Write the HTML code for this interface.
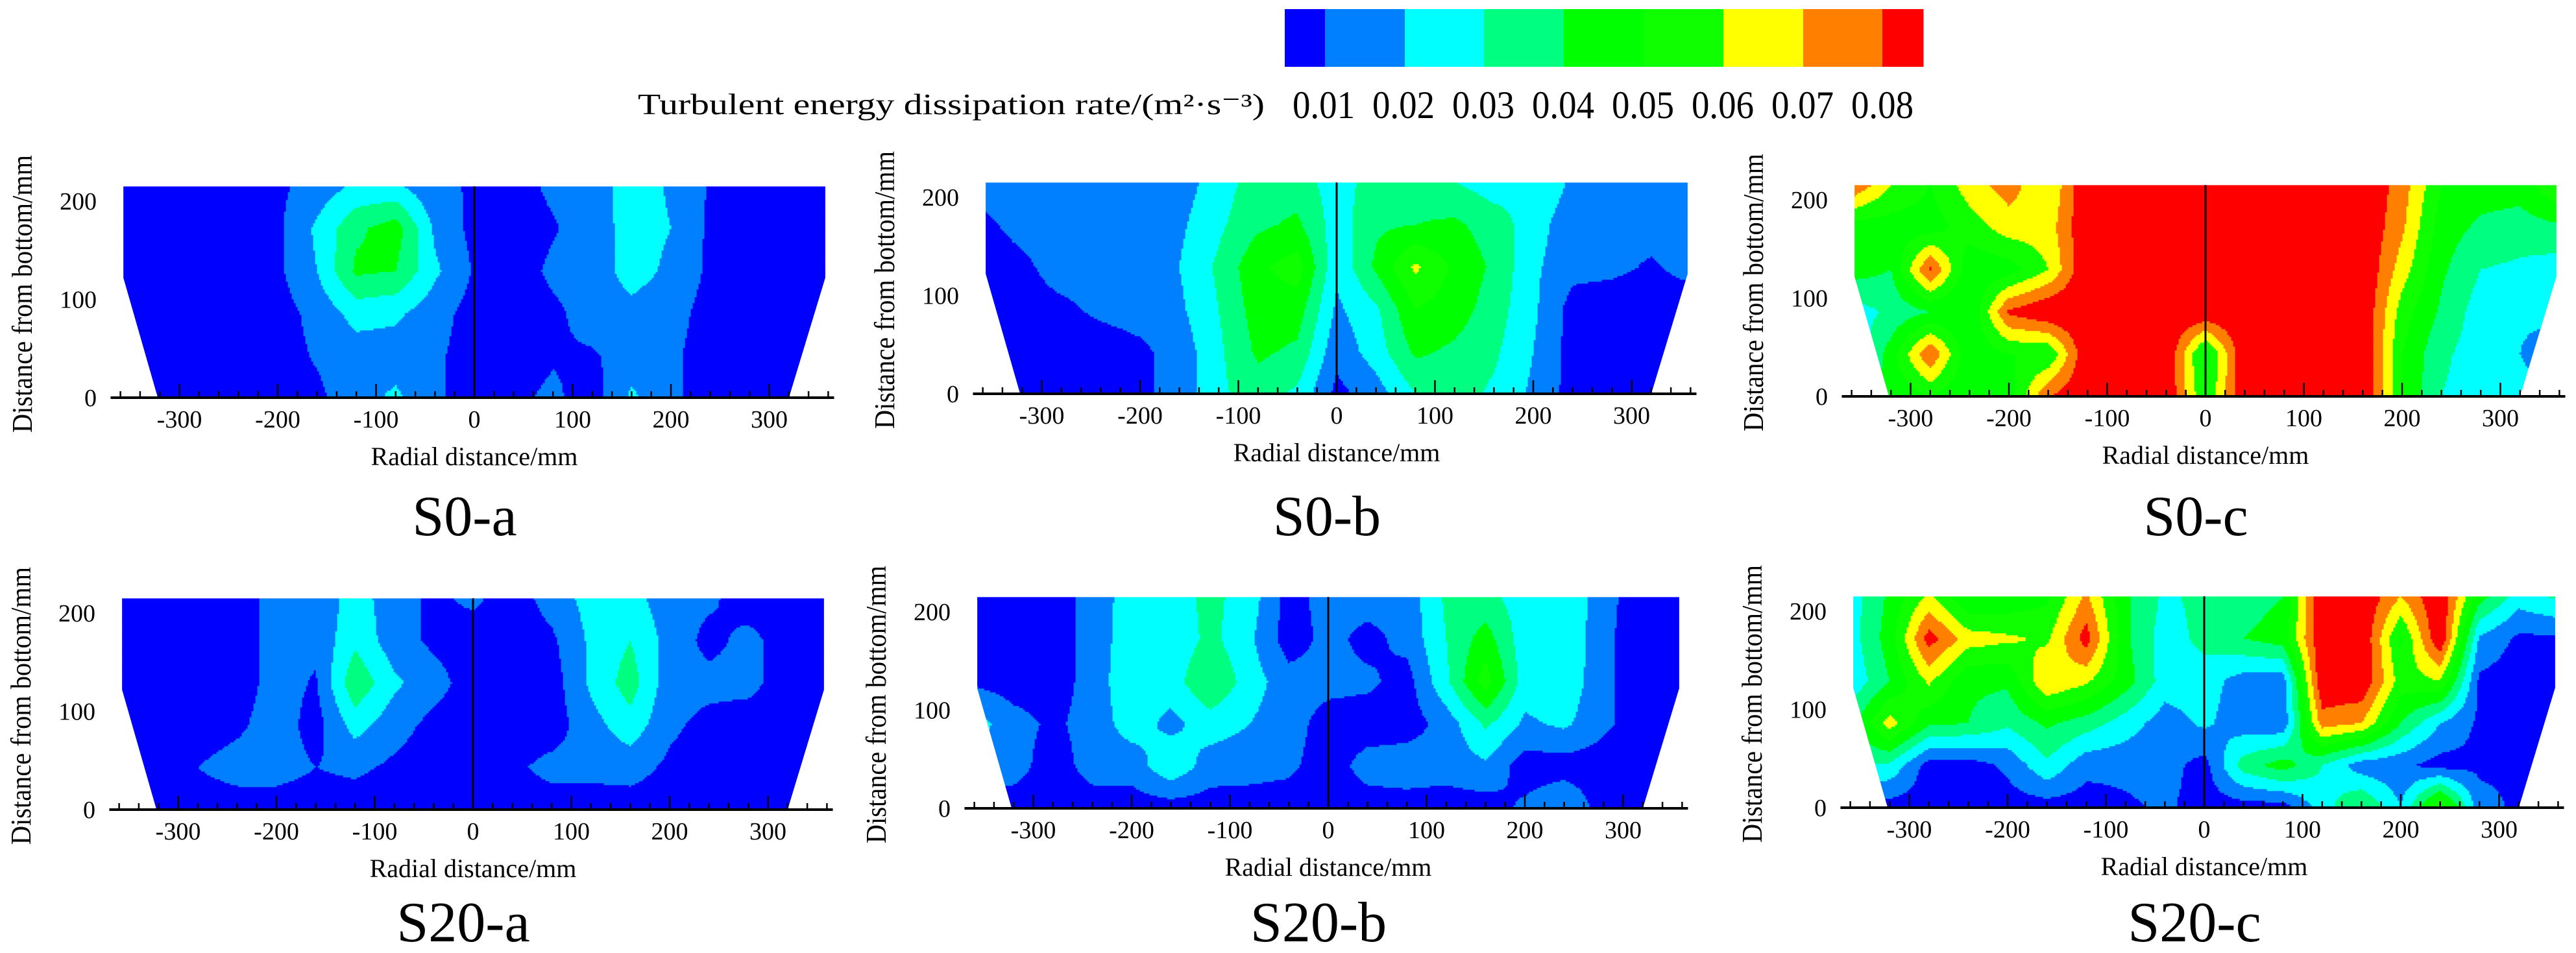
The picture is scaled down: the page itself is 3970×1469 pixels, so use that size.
<!DOCTYPE html>
<html><head><meta charset="utf-8"><style>
html,body{margin:0;padding:0;background:#fff;}
svg{display:block;font-family:"Liberation Serif",serif;}
</style></head><body>
<svg id="chart" width="3970" height="1469" viewBox="0 0 3970 1469">
<rect width="3970" height="1469" fill="#fff"/>
<g id="legend"></g>
<g id="panels"></g>
</svg>
<script>
// ---- data (turbulent energy dissipation rate, units of 0.001 m²/s³) ----
const xCols = [-360,-320,-280,-240,-200,-160,-120,-80,-40,0,40,80,120,160,200,240,280,320,360];
const yRows = [215,172,129,86,43,0];
const levelLabels = ["0.01","0.02","0.03","0.04","0.05","0.06","0.07","0.08"];
const levelColors = ["#0000ff","#0080ff","#00ffff","#00ff80","#00ff00","#10ff00","#ffff00","#ff8000","#ff0000"];
const xTickLabels = [-300,-200,-100,0,100,200,300];
const yTickLabels = [0,100,200];
const panelNames = ["S0-a","S0-b","S0-c","S20-a","S20-b","S20-c"];

const s0a = [
[5,5,5,5,8,14,22,22,12,9,6,12,16,24,19,9,5,5,5],
[5,5,5,5,8,22,38,45,18,7,5,9,15,24,20,8,5,5,5],
[5,5,5,5,8,20,42,40,22,9,5,12,15,24,18,8,5,5,5],
[5,5,5,5,6,13,24,22,14,6,5,8,14,17,14,6,5,5,5],
[5,5,5,5,6,11,15,15,12,5,5,9,9,14,12,5,5,5,5],
[5,5,5,5,6,8,16,22,12,5,8,12,5,22,12,5,5,5,5]];
const s0b = [
[14,13,13,15,14,15,25,35,35,25,35,35,30,25,30,18,13,13,13],
[8,13,13,13,13,18,28,38,42,25,38,40,42,35,25,13,12,13,13],
[5,8,14,13,14,20,32,48,55,22,42,62,48,38,22,13,12,9,13],
[5,6,8,12,14,18,30,45,45,18,28,50,45,35,22,6,5,5,5],
[5,5,5,5,8,14,28,42,38,13,25,42,38,32,20,6,5,5,5],
[5,5,5,5,8,14,28,35,28,7,15,30,35,28,18,6,5,5,5]];
const s0c = [
[80,60,50,65,75,60,90,90,90,90,90,90,90,90,75,50,45,45,60],
[45,45,45,55,65,65,90,90,90,90,90,90,90,90,72,45,38,35,38],
[45,40,82,42,45,60,90,90,90,90,90,90,90,90,65,42,30,28,25],
[25,32,40,40,82,90,90,90,90,90,90,90,90,90,55,38,25,22,25],
[20,45,80,42,50,50,90,90,90,45,90,90,90,90,50,32,25,20,10],
[40,42,50,40,45,80,90,90,90,50,90,90,90,90,50,30,25,25,20]];
const s20a = [
[5,5,5,5,14,12,25,14,8,12,5,14,24,24,14,12,5,5,5],
[5,5,5,5,14,12,28,14,8,5,5,8,22,30,16,7,13,5,5],
[5,5,5,5,14,9,38,22,14,5,5,5,22,35,14,13,13,5,5],
[5,5,5,8,15,6,24,14,7,5,5,5,16,26,12,7,5,5,5],
[5,5,10,14,14,10,12,8,5,5,8,13,13,14,8,5,5,5,5],
[5,5,5,5,5,5,5,5,5,5,5,5,5,5,5,5,5,5,5]];
const s20b = [
[5,5,5,14,25,25,33,25,6,14,14,14,32,33,25,30,13,5,5],
[8,5,5,14,26,22,33,22,5,13,7,13,30,45,24,30,12,5,5],
[8,5,5,14,28,25,40,25,14,13,12,6,28,55,25,28,12,5,5],
[25,14,8,14,25,17,25,20,14,6,5,5,14,32,18,22,12,5,5],
[14,14,5,14,14,28,15,14,12,5,14,16,14,18,5,5,5,5,5],
[5,5,5,5,5,5,5,5,5,5,5,5,5,5,12,20,5,5,5]];
const s20c = [
[25,42,62,40,42,48,72,42,28,33,35,40,90,90,70,90,45,25,32],
[25,45,85,65,62,58,85,42,25,33,40,45,90,90,48,90,18,8,8],
[22,40,62,42,42,70,62,45,25,25,15,14,90,90,55,60,8,5,5],
[35,65,42,40,32,42,35,25,15,22,14,12,75,70,40,20,8,5,5],
[32,28,5,5,12,28,13,13,14,6,35,45,30,14,12,6,8,8,5],
[5,5,5,5,5,5,5,8,12,5,5,5,25,42,20,62,14,8,5]];
const grids = [s0a,s0b,s0c,s20a,s20b,s20c];

// ---- layout ----
const NS = "http://www.w3.org/2000/svg";
const SCALE = 1.515; // px per mm
const origins = [[731,613],[2060,607],[3399,611],[729,1248],[2047,1246],[3397,1245]];
function mk(tag, attrs, parent){ const e=document.createElementNS(NS,tag); for(const k in attrs) e.setAttribute(k,attrs[k]); if(parent) parent.appendChild(e); return e; }

// legend
const legend = document.getElementById('legend');
const segEdges = [1980,2042,2165,2287,2410,2533,2656,2779,2901,2964];
for (let i=0;i<levelColors.length;i++){
  const r = mk('rect',{x:segEdges[i],y:14,width:segEdges[i+1]-segEdges[i]+0.5,height:89,fill:levelColors[i]},legend);
  
  
}
const lt = mk('text',{x:983,y:176,'font-size':46,textLength:966,lengthAdjust:'spacingAndGlyphs'},legend);
lt.textContent = "Turbulent energy dissipation rate/(m²·s⁻³)";


levelLabels.forEach((s,i)=>{
  const cx = 2040+i*123;
  const t = mk('text',{x:cx-48,y:182,'font-size':60,textLength:96,lengthAdjust:'spacingAndGlyphs'},legend);
  t.textContent = s;
  
  
});

function colorIndex(v){ let i=Math.floor(v/10); if(i<0)i=0; if(i>8)i=8; return i; }
function sample(g, xm, ym){
  let fx=(xm-xCols[0])/40; fx=Math.max(0,Math.min(xCols.length-1-1e-6,fx));
  let fy=(yRows[0]-ym)/43; fy=Math.max(0,Math.min(yRows.length-1-1e-6,fy));
  const i=Math.floor(fx), j=Math.floor(fy), tx=fx-i, ty=fy-j;
  const a=g[j][i], b=g[j][i+1], c=g[j+1][i], d=g[j+1][i+1];
  return (a*(1-tx)+b*tx)*(1-ty)+(c*(1-tx)+d*tx)*ty;
}

const panelsG = document.getElementById('panels');
grids.forEach((g,p)=>{
  const [x0,yb] = origins[p];
  const X = mm => x0 + mm*SCALE;
  const Y = mm => yb - mm*SCALE;
  const pg = mk('g',{},panelsG);
  
  
  const cid='clip'+p;
  const cp = mk('clipPath',{id:cid},pg);
  mk('polygon',{points:[[X(-357),Y(215)],[X(357),Y(215)],[X(357),Y(122)],[X(320),Y(0)],[X(-322),Y(0)],[X(-357),Y(122)]].map(a=>a.join(',')).join(' ')},cp);
  const field = mk('g',{'clip-path':'url(#'+cid+')'},pg);
  
  
  const step=3;
  for (let py=Y(215); py<yb; py+=step){
    const ym=(yb-(py+step/2))/SCALE;
    let runStart=X(-360), runCol=-1;
    for (let px=X(-360); px<=X(360)+step; px+=step){
      const xm=(px+step/2-x0)/SCALE;
      const ci = px>X(360) ? -2 : colorIndex(sample(g,xm,ym));
      if (ci!==runCol){
        if (runCol>=0){
          const r=mk('rect',{x:runStart.toFixed(1),y:py.toFixed(1),width:(px-runStart+0.6).toFixed(1),height:step+0.6,fill:levelColors[runCol]},field);
          
          
        }
        runStart=px; runCol=ci;
      }
    }
  }
  const cl = mk('line',{x1:X(0),y1:Y(215),x2:X(0),y2:yb,stroke:'#000','stroke-width':3},pg);
  
  
  const ax = mk('line',{x1:X(-370),y1:yb,x2:X(366),y2:yb,stroke:'#000','stroke-width':4},pg);
  
  
  for (let m=-360;m<=360;m+=20){
    const major = m%100===0;
    const tk = mk('line',{x1:X(m),y1:yb,x2:X(m),y2:yb-(major?21:10),stroke:'#000','stroke-width':2.5},pg);
    
    
  }
  xTickLabels.forEach(v=>{
    const t = mk('text',{x:X(v),y:yb+46,'font-size':38,'text-anchor':'middle'},pg);
    t.textContent = String(v);
    
    
  });
  yTickLabels.forEach(v=>{
    const t = mk('text',{x:x0-582,y:Y(v)+13,'font-size':38,'text-anchor':'end'},pg);
    t.textContent = String(v);
    
    
  });
  const xt = mk('text',{x:x0,y:yb+104,'font-size':40,'text-anchor':'middle'},pg);
  xt.textContent = "Radial distance/mm";
  
  
  const cy = yb-160, bx = x0-682;
  const yt = mk('text',{x:bx,y:cy,'font-size':44,'text-anchor':'middle',textLength:428,lengthAdjust:'spacingAndGlyphs',transform:'rotate(-90 '+bx+' '+cy+')'},pg);
  yt.textContent = "Distance from bottom/mm";
  
  
  const pl = mk('text',{x:x0-15,y:p<3?825:1451,'font-size':88,'text-anchor':'middle'},pg);
  pl.textContent = panelNames[p];
  
  
});
</script>
</body></html>
